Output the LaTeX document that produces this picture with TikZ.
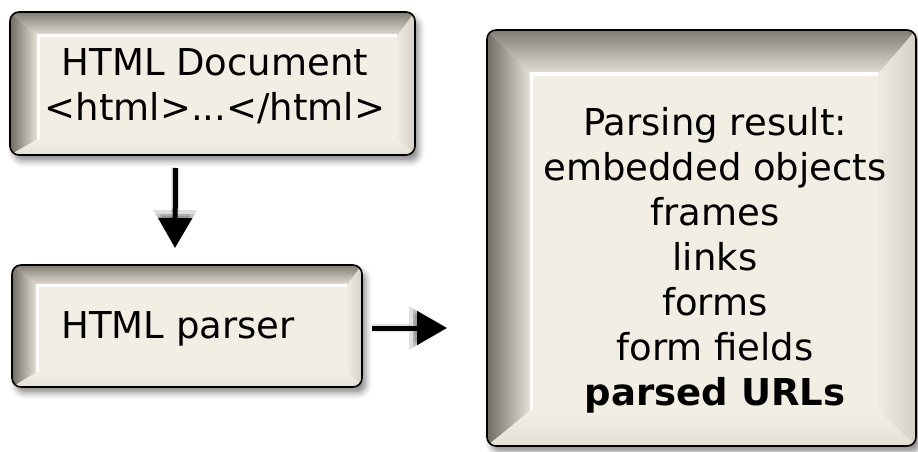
\documentclass[tikz,border=0pt]{standalone}
\usepackage{fontspec}
\setmainfont{DejaVu Sans}
\usepackage{tikz}
\usetikzlibrary{positioning, calc, arrows.meta, shadows.blur}

\definecolor{faceCol}{RGB}{243, 238, 228}
\definecolor{bevTop}{RGB}{128, 124, 113}
\definecolor{bevTopMid}{RGB}{202, 198, 187}
\definecolor{bevTopIn}{RGB}{228, 224, 214}
\definecolor{bevLeft}{RGB}{112, 108, 98}
\definecolor{bevLeftMid}{RGB}{205, 201, 191}
\definecolor{bevLeftIn}{RGB}{232, 228, 218}
\definecolor{bevRight}{RGB}{212, 208, 197}
\definecolor{bevRightIn}{RGB}{239, 235, 225}
\definecolor{bevBot}{RGB}{228, 224, 214}
\definecolor{bevBotIn}{RGB}{243, 239, 230}

% bevel frame round a panel: node, top, left, right, bottom
\newcommand{\bevel}[5]{%
  \begin{scope}
    \clip[rounded corners=9pt] (#1.north west) rectangle (#1.south east);
    \coordinate (ia) at ([xshift=#3pt,yshift=-#2pt]#1.north west);
    \coordinate (ib) at ([xshift=-#4pt,yshift=-#2pt]#1.north east);
    \coordinate (ic) at ([xshift=-#4pt,yshift=#5pt]#1.south east);
    \coordinate (id) at ([xshift=#3pt,yshift=#5pt]#1.south west);
    \shade[top color=bevTop, middle color=bevTopMid, bottom color=bevTopIn]
      (#1.north west) -- (#1.north east) -- (ib) -- (ia) -- cycle;
    \shade[left color=bevLeft, middle color=bevLeftMid, right color=bevLeftIn]
      (#1.north west) -- (ia) -- (id) -- (#1.south west) -- cycle;
    \shade[left color=bevRightIn, right color=bevRight]
      (#1.north east) -- (#1.south east) -- (ic) -- (ib) -- cycle;
    \shade[top color=bevBotIn, bottom color=bevBot]
      (#1.south west) -- (id) -- (ic) -- (#1.south east) -- cycle;
    \draw[white, line width=3pt] (id) -- (ia) -- (ib);
  \end{scope}
  \draw[rounded corners=9pt, line width=1.6pt] (#1.north west) rectangle (#1.south east);
}

\begin{document}
\begin{tikzpicture}[
    x=1pt, y=-1pt,
    panel/.style={rectangle, fill=faceCol, rounded corners=9pt, outer sep=0pt,
                  blur shadow={shadow xshift=4pt, shadow yshift=-6pt,
                               shadow blur radius=6pt, shadow opacity=45}},
    label/.style={align=center, inner sep=0pt,
                  font=\fontsize{37}{45}\selectfont},
    flow/.style={line width=5pt, -{Triangle[width=33pt,length=30pt]}},
    flowshade/.style={draw=black, opacity=0.12, line width=#1,
                      -{Triangle[width=34pt+#1,length=30pt+#1]}}
  ]
    \useasboundingbox (0,0) rectangle (918,452);

    \node[panel, minimum width=405pt, minimum height=143pt] (DOC) at (212.5,83.5) {};
    \bevel{DOC}{24}{28}{18}{16}
    \node[label] (DOCtxt) at (215,86) {HTML Document\\<html>...</html>};

    \node[panel, minimum width=350pt, minimum height=122pt] (PARSER) at (187,326) {};
    \bevel{PARSER}{20}{25}{15}{15}
    \node[label] (PARSERtxt) at (178,329) {HTML parser};

    \node[panel, minimum width=429pt, minimum height=416pt] (RESULT) at (701.5,238) {};
    \bevel{RESULT}{44}{44}{38}{36}
    \node[label] (RESULTtxt) at (715,260) {Parsing result:\\embedded objects\\frames\\links\\
      forms\\form fields\\\textbf{parsed URLs}};

    % shadows of the arrows
    \begin{scope}[shift={(7,7)}]
      \foreach \w in {4pt,8pt} {
        \draw[flowshade=\w] ([xshift=-37pt,yshift=-13pt]DOC.south)
          -- ([xshift=-12pt,yshift=17pt]PARSER.north);
        \draw[flowshade=\w] ($(PARSER.east)+(10,2)$) -- ($(PARSER.east -| RESULT.west)+(-40,2)$);
      }
    \end{scope}

    \draw[flow] ([xshift=-37pt,yshift=-13pt]DOC.south)
      -- ([xshift=-12pt,yshift=17pt]PARSER.north);
    \draw[flow] ($(PARSER.east)+(10,2)$) -- ($(PARSER.east -| RESULT.west)+(-40,2)$);
\end{tikzpicture}
\end{document}
